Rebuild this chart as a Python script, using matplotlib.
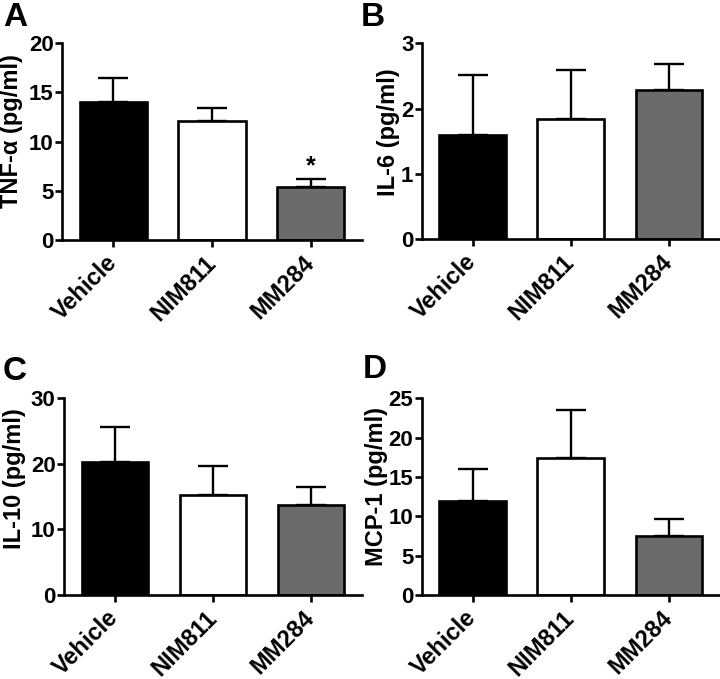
import numpy as np
import matplotlib
matplotlib.use('Agg')
import matplotlib.pyplot as plt

plt.rcParams['font.family'] = ['Liberation Sans', 'DejaVu Sans']
plt.rcParams['font.weight'] = 'bold'

groups = ['Vehicle', 'NIM811', 'MM284']
colors = ['#000000', '#ffffff', '#6b6b6b']

tnf = [14.0, 12.13, 5.42]
tnf_err = [2.45, 1.27, 0.75]
il6 = [1.595, 1.835, 2.285]
il6_err = [0.915, 0.755, 0.405]
il10 = [20.24, 15.3, 13.77]
il10_err = [5.34, 4.42, 2.66]
mcp1 = [11.99, 17.37, 7.5]
mcp1_err = [3.98, 6.1, 2.2]

panels = [
    ('A', tnf, tnf_err, 'TNF-α (pg/ml)', [0, 5, 10, 15, 20]),
    ('B', il6, il6_err, 'IL-6 (pg/ml)', [0, 1, 2, 3]),
    ('C', il10, il10_err, 'IL-10 (pg/ml)', [0, 10, 20, 30]),
    ('D', mcp1, mcp1_err, 'MCP-1 (pg/ml)', [0, 5, 10, 15, 20, 25]),
]

W, H = 720, 679
# axes boxes in pixels: left, right, top, bottom
boxes = [(62, 362, 43.3, 240), (421.7, 720, 43.3, 239),
         (64, 362, 398.3, 595), (421.7, 720, 398.3, 595)]
ylab_pos = [(12, 131), (388, 132), (15, 479), (377, 487)]
letter_pos = [(3, 2), (361, 2), (3, 356), (363, 354)]

fig = plt.figure(figsize=(7.2, 6.79), dpi=100)

for i, (letter, vals, errs, ylabel, yticks) in enumerate(panels):
    l, r, t, b = boxes[i]
    ax = fig.add_axes([l / W, 1 - b / H, (r - l) / W, (b - t) / H])
    x = np.arange(len(groups))
    ax.bar(x, vals, width=0.68, color=colors, edgecolor='black', linewidth=1.9, zorder=2)
    ax.errorbar(x, vals, yerr=[np.zeros(len(vals)), errs], fmt='none', ecolor='black',
                elinewidth=1.7, capsize=11, capthick=1.7, zorder=1)
    ax.set_xlim(-0.52, 2.52)
    ax.set_ylim(0, yticks[-1])
    ax.set_yticks(yticks)
    ax.set_xticks(x)
    ax.set_xticklabels(groups, rotation=45, ha='right', va='center', rotation_mode='anchor',
                       fontsize=17, fontweight='bold')
    for lab in ax.get_yticklabels():
        lab.set_fontsize(16)
        lab.set_fontweight('bold')
    ax.tick_params(axis='both', direction='out', length=5, width=1.9)
    ax.tick_params(axis='x', pad=9)
    ax.tick_params(axis='y', pad=1)
    for s in ['top', 'right']:
        ax.spines[s].set_visible(False)
    for s in ['left', 'bottom']:
        ax.spines[s].set_linewidth(1.9)
    ax.set_ylabel(ylabel, fontsize=17, fontweight='bold')
    ax.yaxis.set_label_coords(ylab_pos[i][0] / W, 1 - ylab_pos[i][1] / H, transform=fig.transFigure)
    ax.yaxis.label.set_va('center')
    fig.text(letter_pos[i][0] / W, 1 - letter_pos[i][1] / H, letter, fontsize=24,
             fontweight='bold', ha='left', va='top')
    if letter == 'A':
        ax.text(2, 7.5, '*', ha='center', va='center', fontsize=18, fontweight='bold')

fig.savefig('out.png', dpi=100)
